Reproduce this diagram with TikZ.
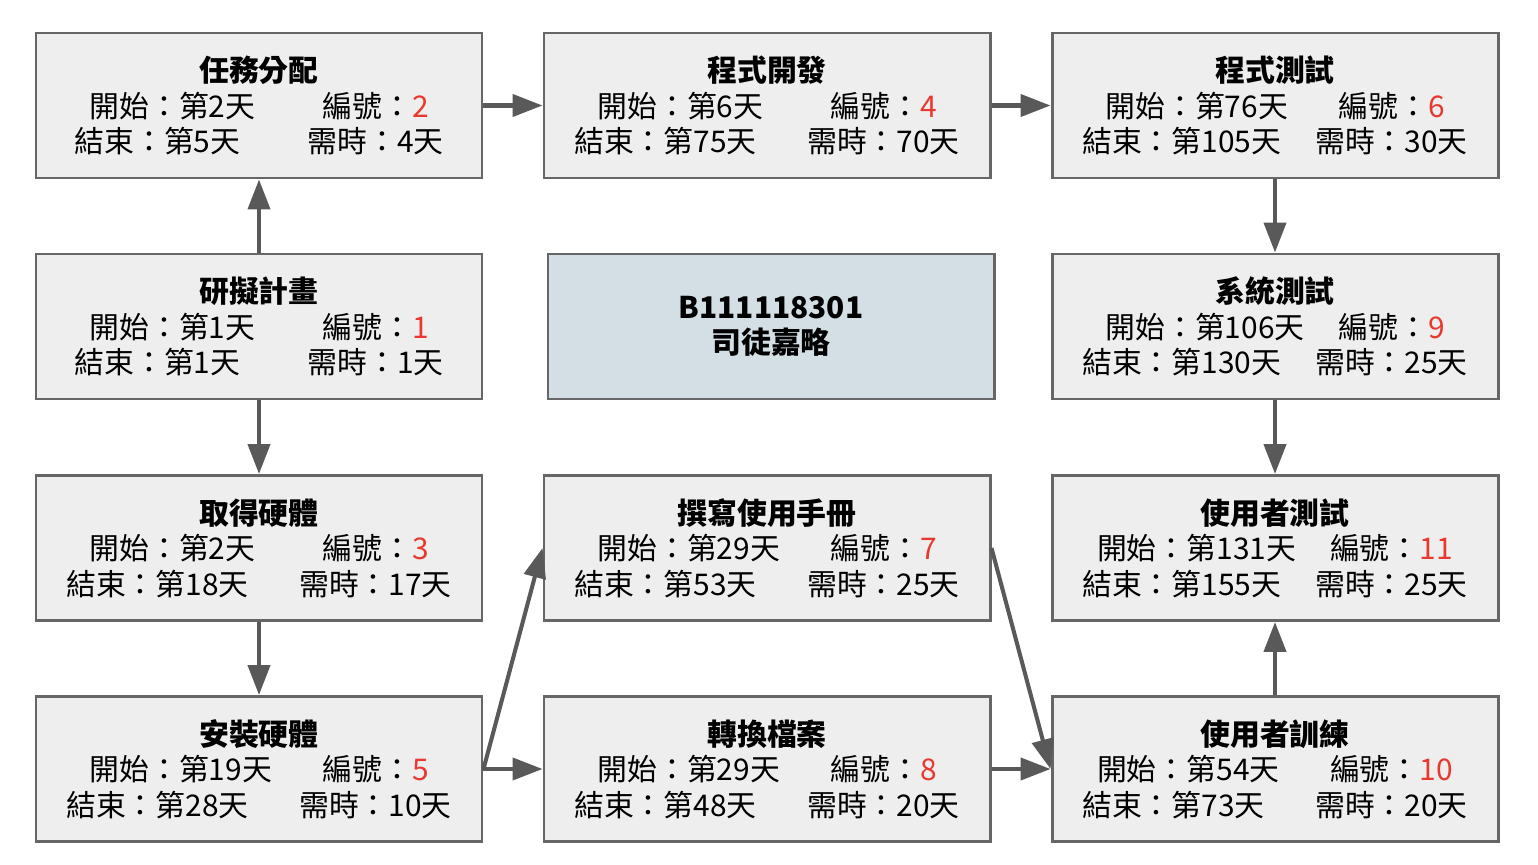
\documentclass[tikz,border=0pt]{standalone}
\usepackage{fontspec}
\setmainfont{Noto Sans CJK TC}
\usepackage{tikz}
\usetikzlibrary{arrows.meta}
\definecolor{boxfill}{RGB}{238,238,238}
\definecolor{boxline}{RGB}{102,102,102}
\definecolor{arrowgray}{RGB}{89,89,89}
\definecolor{numred}{RGB}{232,56,47}
\definecolor{namefill}{RGB}{211,223,228}
\tikzstyle{taskbox} = [rectangle, minimum width=8.92cm, minimum height=2.9cm, line width=1.7pt, align=center, draw=boxline, fill=boxfill, font=\fontsize{17}{20.2}\selectfont, inner sep=0pt]
\tikzstyle{arrow} = [line width=2.3pt, arrowgray, -{Triangle[length=17pt, width=12.5pt]}]
\newcommand{\taskinfo}[5]{\textbf{#1}\\
  \makebox[4.66cm][l]{開始：第#2天}編號：\textcolor{numred}{#3}\\
  \makebox[4.66cm][l]{結束：第#4天}需時：#5天}

\begin{document}
\begin{tikzpicture}
      \useasboundingbox (0, 0) rectangle (30.76, 17.28);
      % left column
      \node (plan)    at (5.18, 10.75) [taskbox] {\taskinfo{研擬計畫}{1}{1}{1}{1}};
      \node (assign)  at (5.18, 15.17) [taskbox] {\taskinfo{任務分配}{2}{2}{5}{4}};
      \node (getHW)   at (5.18, 6.32)  [taskbox] {\taskinfo{取得硬體}{2}{3}{18}{17}};
      \node (setupHW) at (5.18, 1.90)  [taskbox] {\taskinfo{安裝硬體}{19}{5}{28}{10}};
      % middle column
      \node (coding)  at (15.34, 15.17) [taskbox] {\taskinfo{程式開發}{6}{4}{75}{70}};
      \node (manual)  at (15.34, 6.32)  [taskbox] {\taskinfo{撰寫使用手冊}{29}{7}{53}{25}};
      \node (convert) at (15.34, 1.90)  [taskbox] {\taskinfo{轉換檔案}{29}{8}{48}{20}};
      \node (student) at (15.42, 10.75) [taskbox, fill=namefill] {\textbf{B111118301}\\ \textbf{司徒嘉略}};
      % right column
      \node (progTest) at (25.5, 15.17) [taskbox] {\taskinfo{程式測試}{76}{6}{105}{30}};
      \node (sysTest)  at (25.5, 10.75) [taskbox] {\taskinfo{系統測試}{106}{9}{130}{25}};
      \node (userTest) at (25.5, 6.32)  [taskbox] {\taskinfo{使用者測試}{131}{11}{155}{25}};
      \node (training) at (25.5, 1.90)  [taskbox] {\taskinfo{使用者訓練}{54}{10}{73}{20}};

      \draw [arrow] (plan) -- (assign);
      \draw [arrow] (plan) -- (getHW);
      \draw [arrow] (getHW) -- (setupHW);
      \draw [arrow] (assign) -- (coding);
      \draw [arrow] (coding) -- (progTest);
      \draw [arrow] (progTest) -- (sysTest);
      \draw [arrow] (sysTest) -- (userTest);
      \draw [arrow] (setupHW.east) -- (convert.west);
      \draw [arrow] (setupHW.east) -- (manual.west);
      \draw [arrow] (convert.east) -- (training.west);
      \draw [arrow] (manual.east) -- (training.west);
      \draw [arrow] (training) -- (userTest);
    \end{tikzpicture}
\end{document}
